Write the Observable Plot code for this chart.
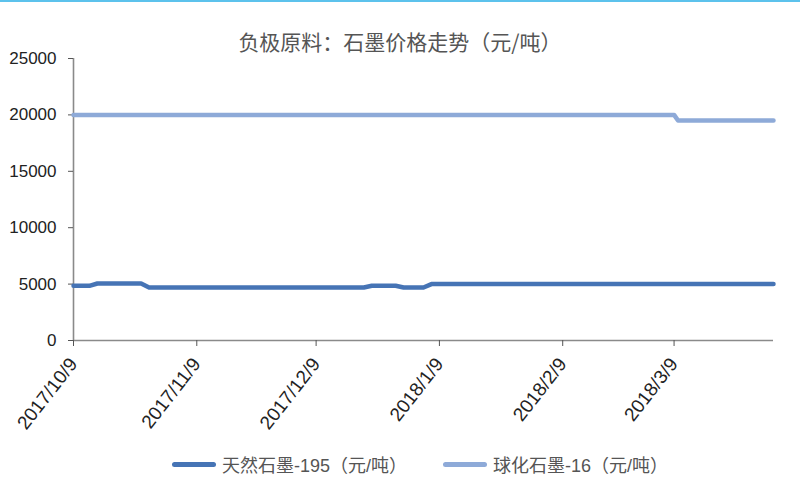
<!DOCTYPE html>
<html>
<head>
<meta charset="utf-8">
<script src="https://cdn.jsdelivr.net/npm/d3@7"></script>
<script src="https://cdn.jsdelivr.net/npm/@observablehq/plot@0.6"></script>
<style>
  html, body { margin: 0; padding: 0; background: #fff; }
  body { width: 800px; height: 500px; overflow: hidden; position: relative;
         font-family: "Liberation Sans", Arial, "Noto Sans CJK SC", sans-serif; }
  .topbar { position: absolute; left: 0; top: 0; width: 800px; height: 2px; background: #5cc2ec; }
  .title { height: 50px; box-sizing: border-box; padding-top: 30px; text-align: center;
           font-family: "Noto Sans CJK SC", sans-serif; font-size: 21px; color: #555; line-height: 22px; }
  .legend { position: relative; height: 50px; }
  .item { position: absolute; top: 1px; display: flex; align-items: center; font-size: 18px; color: #555;
          font-family: "Liberation Sans", Arial, "Noto Sans CJK SC", sans-serif; }
  .swatch { width: 44px; height: 5px; border-radius: 3px; margin-right: 6px; }
</style>
</head>
<body>
<div class="topbar"></div>
<div class="title" id="title"></div>
<div id="chart"></div>
<div class="legend" id="legend"></div>
<script>
const titleText = "负极原料：石墨价格走势（元/吨）";
const seriesNames = ["天然石墨-195（元/吨）", "球化石墨-16（元/吨）"];
const seriesColors = ["#4674b5", "#8eaad8"];

const natDates  = ["2017-10-09","2017-10-13","2017-10-15","2017-10-26","2017-10-28","2017-12-21","2017-12-23","2017-12-29","2017-12-31","2018-01-05","2018-01-07","2018-04-03"];
const natValues = [4850, 4850, 5050, 5050, 4700, 4700, 4850, 4850, 4700, 4700, 5000, 5000];

const sphDates  = ["2017-10-09","2018-03-09","2018-03-10","2018-04-03"];
const sphValues = [20000, 20000, 19500, 19500];

const xTicks = ["2017-10-09","2017-11-09","2017-12-09","2018-01-09","2018-02-09","2018-03-09"];
const xDomain = ["2017-10-09","2018-04-03"];
const yTicks = [0, 5000, 10000, 15000, 20000, 25000];

const toDate = s => new Date(s + "T00:00:00Z");
const fmt = d => `${d.getUTCFullYear()}/${d.getUTCMonth() + 1}/${d.getUTCDate()}`;

const nat = natDates.map((d, i) => ({date: toDate(d), value: natValues[i], series: seriesNames[0]}));
const sph = sphDates.map((d, i) => ({date: toDate(d), value: sphValues[i], series: seriesNames[1]}));

document.getElementById("title").textContent = titleText;

const chart = Plot.plot({
  width: 800,
  height: 400,
  marginLeft: 73,
  marginRight: 27,
  marginTop: 8,
  marginBottom: 110,
  style: {fontFamily: '"Liberation Sans", Arial, sans-serif', color: "#222", background: "transparent"},
  x: {type: "utc", domain: xDomain.map(toDate)},
  y: {domain: [yTicks[0], yTicks[yTicks.length - 1]]},
  marks: [
    Plot.ruleY([yTicks[0]], {stroke: "#8a8a8a", strokeWidth: 1.6}),
    Plot.ruleX([toDate(xDomain[0])], {stroke: "#8a8a8a", strokeWidth: 1.6}),
    Plot.axisY({ticks: yTicks, tickSize: 5, tickPadding: 12, fontSize: 17, stroke: "#555", tickFormat: d => String(d), label: null}),
    Plot.axisX({ticks: xTicks.map(toDate), tickFormat: fmt, tickSize: 6, tickPadding: 14, tickRotate: -52, fontSize: 19, stroke: "#555", label: null}),
    Plot.line(sph, {x: "date", y: "value", stroke: seriesColors[1], strokeWidth: 4.5, strokeLinecap: "round", strokeLinejoin: "round"}),
    Plot.line(nat, {x: "date", y: "value", stroke: seriesColors[0], strokeWidth: 4.5, strokeLinecap: "round", strokeLinejoin: "round"})
  ]
});
document.getElementById("chart").appendChild(chart);

const legend = document.getElementById("legend");
const legendLeft = [172, 443];
seriesNames.forEach((name, i) => {
  const item = document.createElement("div");
  item.className = "item";
  item.style.left = legendLeft[i] + "px";
  const sw = document.createElement("span");
  sw.className = "swatch";
  sw.style.background = seriesColors[i];
  const tx = document.createElement("span");
  tx.textContent = name;
  item.appendChild(sw);
  item.appendChild(tx);
  legend.appendChild(item);
});
</script>
</body>
</html>
